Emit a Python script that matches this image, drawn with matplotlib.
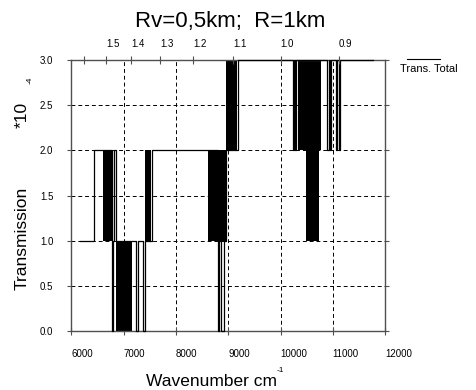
import numpy as np
import matplotlib.pyplot as plt
from matplotlib.lines import Line2D

plt.rcParams['font.family'] = ['Liberation Sans', 'DejaVu Sans']

# total transmission (units of 1e-4), piecewise constant between edges [cm^-1]
edges = [6163, 6432, 6604, 6771, 6777, 6796, 6816, 6854, 7155, 7238, 7270,
         7372, 7410, 7520, 7539, 8619, 8798, 8825, 8863, 8913, 8965, 9170,
         9186, 10237, 10260, 10279, 10289, 10333, 10769, 10897, 10928, 10950,
         10965, 11057, 11075, 11115, 11133, 11767]
levels = [1, 2, 2, 1, 0, 1, 2, 1, 1, 0, 1,
          0, 1, 1, 2, 2, 0, 1, 0, 1, 2, 2,
          3, 2, 3, 2, 3, 3, 3, 2, 3, 2,
          3, 2, 3, 2, 3]

# windows where the transmission flips between two levels too fast to resolve
band_start = [6604, 6854, 7410, 8619, 8965, 10333, 10481]
band_end = [6771, 7155, 7520, 8965, 9170, 10769, 10736]
band_low = [1, 0, 1, 1, 2, 2, 1]
band_high = [2, 1, 2, 2, 3, 3, 2]

wn_ticks = np.arange(6000, 12001, 1000)
y_ticks = np.arange(0, 3.01, 0.5)
um_ticks = [1.6, 1.5, 1.4, 1.3, 1.2, 1.1, 1.0, 0.9]
um_labels = ['', '1.5', '1.4', '1.3', '1.2', '1.1', '1.0', '0.9']

fig = plt.figure(figsize=(4.76, 3.9), dpi=100)
ax = fig.add_axes([0.150, 0.151, 0.659, 0.695])

spine_c = '#505050'
grid_kw = dict(color='black', lw=0.7, ls=(0, (4, 3)), zorder=1)
for g in wn_ticks[1:-1]:
    ax.axvline(g, **grid_kw)
for g in y_ticks[1:-1]:
    ax.axhline(g, **grid_kw)

for s, e, lo, hi in zip(band_start, band_end, band_low, band_high):
    ax.fill_between([s, e], [lo, lo], [hi, hi], color='black', lw=0, zorder=2)

x = np.repeat(edges, 2)[1:-1]
y = np.repeat(levels, 2)
ax.plot(x, y, color='black', lw=0.9, zorder=3, clip_on=False)

ax.set_xlim(6000, 12000)
ax.set_ylim(0, 3)
ax.set_xticks(wn_ticks)
ax.set_xticklabels([str(t) for t in wn_ticks], ha='left')
ax.set_yticks(y_ticks)
ax.set_yticklabels(['%.1f' % t for t in y_ticks])
ax.tick_params(axis='x', direction='inout', length=6, pad=10, labelsize=7,
               color=spine_c)
ax.tick_params(axis='y', direction='out', length=3, pad=10, labelsize=7,
               right=True, color=spine_c)
for sp in ax.spines.values():
    sp.set_color(spine_c)
    sp.set_linewidth(1.0)

# wavelength scale in micrometres
ax2 = ax.twiny()
ax2.set_xlim(ax.get_xlim())
ax2.set_xticks([1e4 / u for u in um_ticks])
ax2.set_xticklabels(um_labels, ha='left')
ax2.tick_params(axis='x', direction='inout', length=6, pad=5, labelsize=7,
                color=spine_c)
for sp in ax2.spines.values():
    sp.set_visible(False)

fig.text(0.484, 0.944, 'Rv=0,5km;  R=1km', ha='center', va='center', fontsize=16)
fig.text(0.445, 0.023, 'Wavenumber cm', ha='center', va='center', fontsize=12.5)
fig.text(0.59, 0.05, '-1', ha='center', va='center', fontsize=6)
fig.text(0.046, 0.39, 'Transmission', rotation=90, ha='center', va='center',
         fontsize=12.5)
fig.text(0.046, 0.705, '*10', rotation=90, ha='center', va='center', fontsize=12.5)
fig.text(0.064, 0.795, '-4', rotation=90, ha='center', va='center', fontsize=6)

# legend: line sample above its label
fig.add_artist(Line2D([407 / 476, 440 / 476], [1 - 59 / 390, 1 - 59 / 390],
                      color='black', lw=0.8))
fig.text(400 / 476, 1 - 69 / 390, 'Trans. Total', ha='left', va='center',
         fontsize=8)

fig.savefig('out.png', dpi=100)
